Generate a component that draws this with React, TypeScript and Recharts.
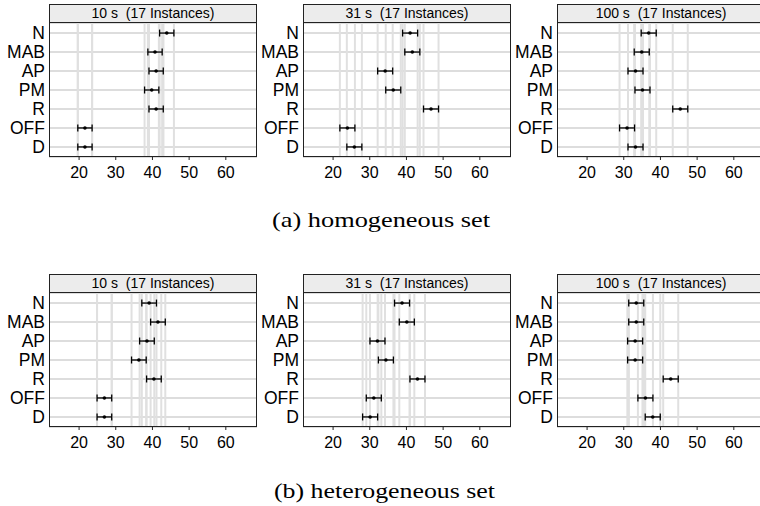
import React from 'react';
import {
  ScatterChart,
  Scatter,
  XAxis,
  YAxis,
  CartesianGrid,
  ReferenceLine,
  ErrorBar,
} from 'recharts';

// ---------- data ----------
const categories = ['N', 'MAB', 'AP', 'PM', 'R', 'OFF', 'D'];
const timeLabels = ['10 s', '31 s', '100 s'];
const instanceCount = 17;
const xTicks = [20, 30, 40, 50, 60];

const homog10 = [43.9, 40.7, 41.0, 39.8, 41.0, 21.6, 21.6];
const homog31 = [41.0, 41.6, 34.2, 36.4, 46.7, 23.9, 25.8];
const homog100 = [36.8, 34.9, 33.2, 35.1, 45.4, 30.9, 33.2];
const homogHalfWidth = [1.95, 2.05, 2.05];

const hetero10 = [39.1, 41.5, 38.5, 36.3, 40.4, 26.9, 26.9];
const hetero31 = [38.8, 40.1, 32.1, 34.4, 43.0, 31.1, 30.1];
const hetero100 = [33.4, 33.4, 33.1, 33.1, 42.8, 35.9, 37.9];
const heteroHalfWidth = [2.0, 2.05, 2.05];

const captions = ['(a) homogeneous set', '(b) heterogeneous set'];

// ---------- layout ----------
const SANS = '"Liberation Sans", Arial, Helvetica, sans-serif';
const SERIF = '"Liberation Serif", "Times New Roman", serif';
const PANEL_W = 208;
const HEADER_H = 19;
const PLOT_H = 134;
const YAXIS_W = 46;
const XAXIS_H = 30;
const panelLefts = [49, 303, 557];
const rowTops = [4, 273.5];

const Dot = (props: any) => {
  const { cx, cy } = props;
  if (cx == null || cy == null) return null;
  return <circle cx={cx} cy={cy} r={1.8} fill="#000" />;
};

function Panel({
  values,
  hw,
  title,
  left,
  top,
}: {
  values: number[];
  hw: number;
  title: string;
  left: number;
  top: number;
}) {
  const n = categories.length;
  const rows = categories.map((c, i) => ({ y: n - 1 - i, x: values[i], err: hw, name: c }));
  const bounds = values.flatMap((v) => [v - hw, v + hw]);
  const yTicks = categories.map((_, i) => i);
  return (
    <>
      <div
        style={{
          position: 'absolute',
          left: left - YAXIS_W,
          top: top + HEADER_H,
          width: YAXIS_W + PANEL_W,
          height: PLOT_H + XAXIS_H,
        }}
      >
        <ScatterChart
          width={YAXIS_W + PANEL_W}
          height={PLOT_H + XAXIS_H}
          margin={{ top: 0, right: 0, bottom: 0, left: 0 }}
        >
          <CartesianGrid vertical={false} stroke="#d2d2d2" strokeWidth={1.4} />
          <XAxis
            type="number"
            dataKey="x"
            domain={[11.8, 68.5]}
            ticks={xTicks}
            interval={0}
            allowDataOverflow
            axisLine={false}
            tickSize={3}
            tickMargin={7}
            tickLine={{ stroke: '#222' }}
            tick={{ fontSize: 16, fill: '#000', fontFamily: SANS }}
            height={XAXIS_H}
          />
          <YAxis
            type="number"
            dataKey="y"
            domain={[-0.53, n - 1 + 0.53]}
            ticks={yTicks}
            interval={0}
            allowDataOverflow
            tickFormatter={(v: number) => categories[n - 1 - v]}
            width={YAXIS_W}
            axisLine={false}
            tickLine={false}
            tickSize={0}
            tickMargin={4}
            tick={{ fontSize: 17.5, fill: '#000', fontFamily: SANS }}
          />
          {bounds.map((b, k) => (
            <ReferenceLine key={k} x={b} stroke="#e0e0e0" strokeWidth={2} />
          ))}
          <Scatter data={rows} isAnimationActive={false} shape={Dot}>
            <ErrorBar
              dataKey="err"
              direction="x"
              width={3.5}
              stroke="#000"
              strokeWidth={1.3}
              isAnimationActive={false}
            />
          </Scatter>
        </ScatterChart>
      </div>
      <div
        style={{
          position: 'absolute',
          left,
          top,
          width: PANEL_W,
          height: HEADER_H + PLOT_H,
          border: '1px solid #222',
          boxSizing: 'border-box',
          pointerEvents: 'none',
        }}
      />
      <div
        style={{
          position: 'absolute',
          left,
          top,
          width: PANEL_W,
          height: HEADER_H,
          border: '1px solid #222',
          boxSizing: 'border-box',
          background: '#ececec',
          fontFamily: SANS,
          fontSize: 14,
          lineHeight: `${HEADER_H - 2}px`,
          textAlign: 'center',
          whiteSpace: 'pre',
          color: '#000',
        }}
      >
        {title}
      </div>
    </>
  );
}

export default function App() {
  const rowsData = [
    { values: [homog10, homog31, homog100], hw: homogHalfWidth },
    { values: [hetero10, hetero31, hetero100], hw: heteroHalfWidth },
  ];
  return (
    <div
      style={{
        position: 'absolute',
        left: 0,
        top: 0,
        width: 760,
        height: 506,
        overflow: 'hidden',
        background: '#fff',
      }}
    >
      <svg
        width={760}
        height={506}
        style={{ position: 'absolute', left: 0, top: 0 }}
      >
        <text
          x={272}
          y={227}
          fontFamily={SERIF}
          fontSize={22}
          textLength={218}
          lengthAdjust="spacingAndGlyphs"
          fill="#000"
        >
          {captions[0]}
        </text>
        <text
          x={274}
          y={498}
          fontFamily={SERIF}
          fontSize={22}
          textLength={221}
          lengthAdjust="spacingAndGlyphs"
          fill="#000"
        >
          {captions[1]}
        </text>
      </svg>
      {rowsData.map((row, r) =>
        row.values.map((vals, c) => (
          <Panel
            key={`${r}-${c}`}
            values={vals}
            hw={row.hw[c]}
            title={`${timeLabels[c]}  (${instanceCount} Instances)`}
            left={panelLefts[c]}
            top={rowTops[r]}
          />
        ))
      )}
    </div>
  );
}
